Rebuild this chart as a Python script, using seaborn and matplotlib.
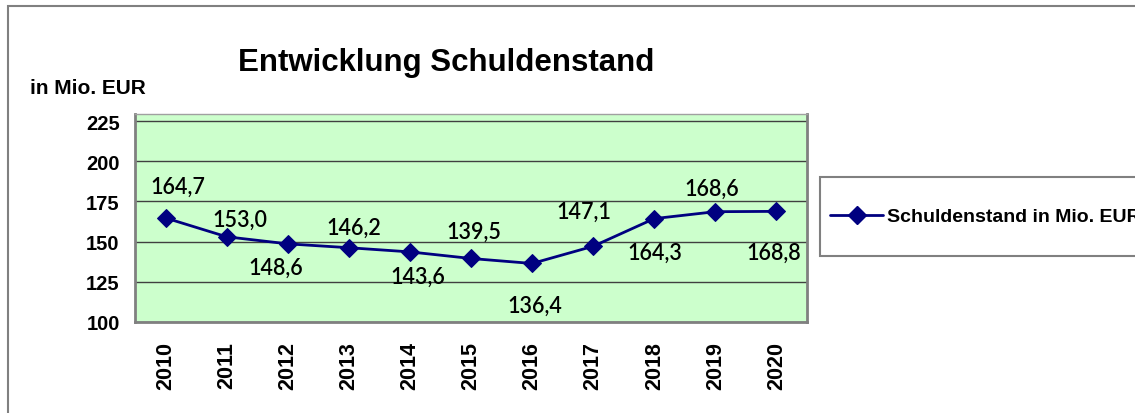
import matplotlib
matplotlib.use("Agg")
import matplotlib.pyplot as plt
import seaborn as sns
import pandas as pd
from matplotlib.patches import Rectangle
from matplotlib.lines import Line2D

# data
years = ["2010", "2011", "2012", "2013", "2014", "2015",
         "2016", "2017", "2018", "2019", "2020"]
debt = [164.7, 153.0, 148.6, 146.2, 143.6, 139.5, 136.4, 147.1, 164.3, 168.6, 168.8]
y_ticks = [100, 125, 150, 175, 200, 225]

# label offsets (pixels, +y is up) roughly as Excel placed them
label_dx = [12, 13, -12, 5, 8, 3, 3, -9, 1, -4, -3]
label_dy = [32, 18, -23, 20, -24, 27, -42, 35, -34, 23, -41]

df = pd.DataFrame({"pos": range(len(years)), "value": debt})

sns.set_style("white")
plt.rcParams["font.family"] = ["Liberation Sans", "DejaVu Sans"]
plt.rcParams["text.color"] = "black"
plt.rcParams["xtick.color"] = "black"
plt.rcParams["ytick.color"] = "black"

W, H = 1135, 414
fig = plt.figure(figsize=(W / 100, H / 100), dpi=100)
ax = fig.add_axes([135 / W, 1 - 323 / H, (807 - 135) / W, (323 - 115) / H])
ax.set_facecolor("#ccffcc")

navy = "#000080"
sns.lineplot(data=df, x="pos", y="value", ax=ax, color=navy, linewidth=2,
             marker="D", markersize=9, markeredgecolor=navy, markerfacecolor=navy,
             zorder=3, legend=False)

ax.set_xlim(-0.5, len(years) - 0.5)
ax.set_ylim(100, 225 + 125 * 7 / 201)
ax.set_yticks(y_ticks)
ax.set_yticklabels([str(t) for t in y_ticks], fontsize=14.5, fontweight="bold")
ax.yaxis.grid(True, color="#404040", linewidth=1)
ax.set_axisbelow(True)

ax.set_xticks(range(len(years)))
ax.set_xticklabels(years, rotation=90, fontsize=15.5, fontweight="bold")
ax.set_xticks([i - 0.5 for i in range(len(years) + 1)], minor=True)
ax.tick_params(axis="x", which="major", length=0, pad=14)
ax.tick_params(axis="x", which="minor", length=6, color="#808080", width=1.5)
ax.tick_params(axis="y", length=6, color="#808080", width=1.5, pad=5)
ax.set_xlabel("")
ax.set_ylabel("")

for side in ["left", "bottom", "right"]:
    ax.spines[side].set_color("#808080")
    ax.spines[side].set_linewidth(2)
ax.spines["top"].set_color("#a0a0a0")
ax.spines["top"].set_linewidth(1)

for i, v in enumerate(debt):
    ax.annotate(f"{v:.1f}".replace(".", ","), (i, v),
                xytext=(label_dx[i] * 0.72, label_dy[i] * 0.72),
                textcoords="offset points", ha="center", va="center",
                fontsize=15.5, family=["Lato", "DejaVu Sans"], fontweight="semibold")

fig.text(446 / W, 1 - 63 / H, "Entwicklung Schuldenstand", ha="center", va="center",
         fontsize=22.5, fontweight="bold")
fig.text(30 / W, 1 - 88 / H, "in Mio. EUR", ha="left", va="center",
         fontsize=15, fontweight="bold")

# outer chart border (right and bottom run off the image)
fig.patches.append(Rectangle((8 / W, -0.1), 1.2, 1 - 7 / H + 0.1,
                             transform=fig.transFigure, fill=False,
                             edgecolor="#808080", linewidth=1.5))

# legend frame, also running off the right edge
fig.patches.append(Rectangle((820 / W, 1 - 257 / H), 0.5, 79 / H,
                             transform=fig.transFigure, fill=True, facecolor="white",
                             edgecolor="#808080", linewidth=1.5))

handle = Line2D([], [], color=navy, linewidth=2, marker="D", markersize=9)
leg = fig.legend([handle], ["Schuldenstand in Mio. EUR"], loc="center left",
                 bbox_to_anchor=(830 / W, 1 - 217.5 / H), frameon=False,
                 borderaxespad=0, borderpad=0,
                 handlelength=2.75, handletextpad=0.2,
                 prop={"weight": "bold", "size": 14})

fig.savefig("out.png", dpi=100)
